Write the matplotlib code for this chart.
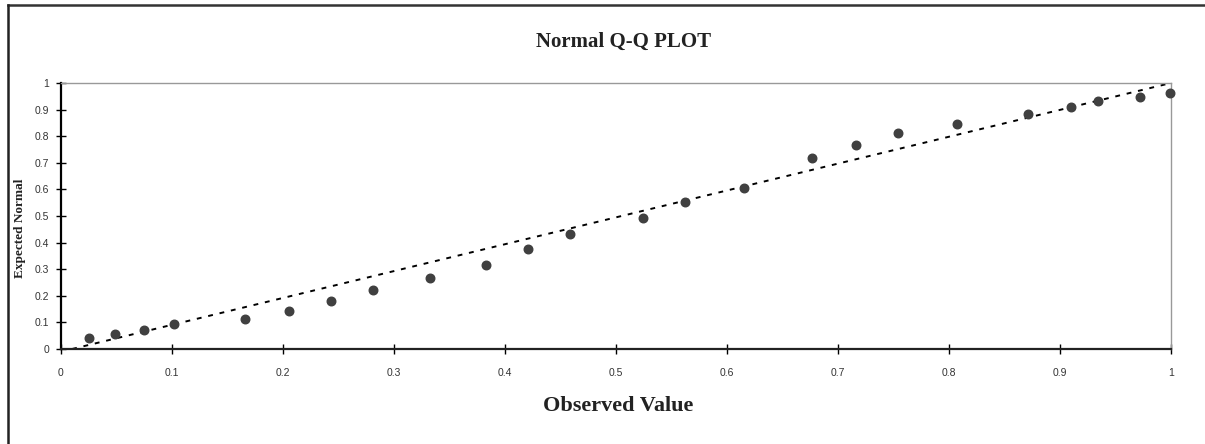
import numpy as np
import matplotlib.pyplot as plt
from matplotlib.lines import Line2D

# observed vs expected normal
observed = [0.025, 0.049, 0.075, 0.102, 0.166, 0.205, 0.243, 0.281, 0.332, 0.383,
            0.421, 0.459, 0.524, 0.562, 0.615, 0.677, 0.716, 0.754, 0.807, 0.871,
            0.910, 0.934, 0.972, 0.999]
expected = [0.042, 0.057, 0.071, 0.094, 0.114, 0.144, 0.180, 0.223, 0.267, 0.317,
            0.376, 0.433, 0.491, 0.551, 0.606, 0.717, 0.767, 0.811, 0.846, 0.883,
            0.911, 0.933, 0.948, 0.962]
line_x = [0.01, 1.0]
line_y = [0.0, 1.0]
ticks = [0, 0.1, 0.2, 0.3, 0.4, 0.5, 0.6, 0.7, 0.8, 0.9, 1]
tick_labels = ["0", "0.1", "0.2", "0.3", "0.4", "0.5", "0.6", "0.7", "0.8", "0.9", "1"]

W, H = 1205, 444
fig = plt.figure(figsize=(W / 100, H / 100), dpi=100)
ax = fig.add_axes([61 / W, 1 - 349 / H, (1171 - 61) / W, (349 - 83) / H])

ax.plot(line_x, line_y, color="black", linestyle=(0, (2.5, 3.5)), linewidth=1.4, zorder=2)
ax.scatter(observed, expected, s=38, color="#404040", zorder=3, clip_on=False)

ax.set_xlim(0, 1)
ax.set_ylim(0, 1)
ax.set_xticks(ticks)
ax.set_xticklabels(tick_labels)
ax.set_yticks(ticks)
ax.set_yticklabels(tick_labels)
for lab in ax.get_xticklabels() + ax.get_yticklabels():
    lab.set_fontfamily("Liberation Sans")
    lab.set_fontsize(7.5)
    lab.set_color("#333333")
ax.tick_params(axis="both", direction="inout", length=7, width=1, color="black")
ax.tick_params(axis="x", pad=10)
ax.tick_params(axis="y", pad=5)

ax.spines["left"].set_linewidth(1.6)
ax.spines["bottom"].set_linewidth(1.6)
ax.spines["left"].set_color("black")
ax.spines["bottom"].set_color("#222222")
ax.spines["top"].set_color("#999999")
ax.spines["right"].set_color("#999999")
ax.spines["top"].set_linewidth(1)
ax.spines["right"].set_linewidth(1)

fig.text(624 / W, 1 - 42 / H, "Normal Q-Q PLOT", ha="center", va="center",
         fontfamily="Liberation Serif", fontweight="bold", fontsize=15, color="#222222")
fig.text(618 / W, 1 - 406 / H, "Observed Value", ha="center", va="center",
         fontfamily="Liberation Serif", fontweight="bold", fontsize=16, color="#222222")
fig.text(20 / W, 1 - 228 / H, "Expected Normal", ha="center", va="center", rotation=90,
         fontfamily="Liberation Serif", fontweight="bold", fontsize=9.5, color="#222222")

# outer frame (only top and left edges visible)
fig.add_artist(Line2D([8 / W, 1], [1 - 5 / H, 1 - 5 / H], color="#333333", linewidth=1.8,
                      transform=fig.transFigure))
fig.add_artist(Line2D([8 / W, 8 / W], [0, 1 - 5 / H], color="#222222", linewidth=1.8,
                      transform=fig.transFigure))

fig.savefig("out.png", dpi=100)
